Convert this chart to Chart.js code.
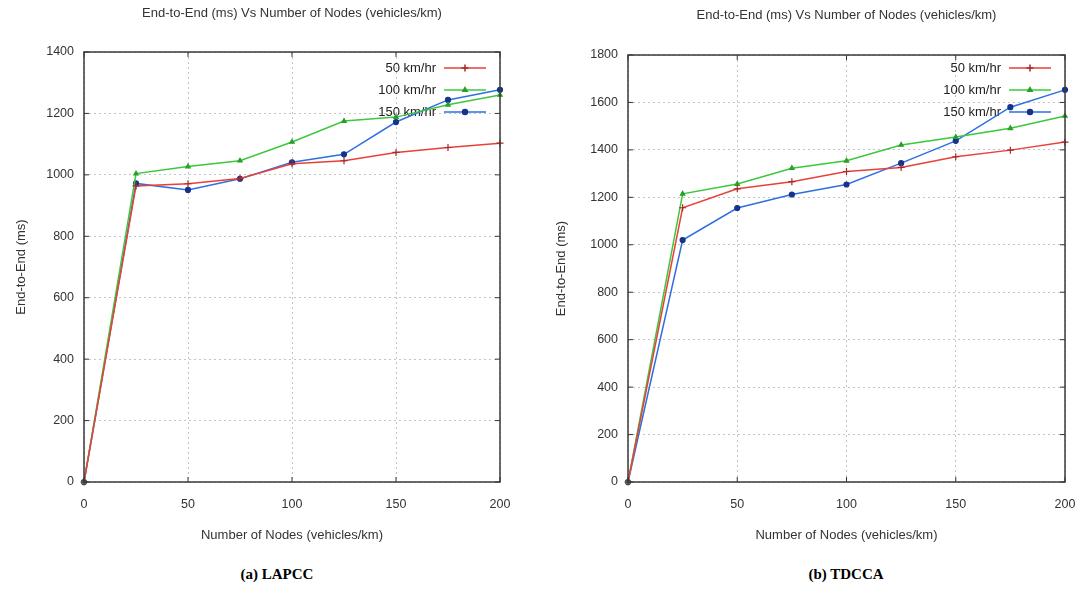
<!DOCTYPE html>
<html>
<head>
<meta charset="utf-8">
<script src="https://cdn.jsdelivr.net/npm/chart.js@4.4.1/dist/chart.umd.min.js"></script>
<style>
  body { margin: 0; background: #fff; width: 1081px; height: 594px; position: relative; overflow: hidden; }
  canvas { position: absolute; top: 0; }
  .cap { position: absolute; top: 566px; font-family: "Liberation Serif", serif; font-weight: bold; font-size: 15px; color: #000; transform: translateX(-50%); white-space: nowrap; }
</style>
</head>
<body>
<canvas id="lapcc" width="540" height="560" style="left:0"></canvas>
<canvas id="tdcca" width="541" height="560" style="left:540px"></canvas>
<div class="cap" style="left:277px">(a) LAPCC</div>
<div class="cap" style="left:846px">(b) TDCCA</div>
<script>
// node density on the x axis
const nodes = [0, 25, 50, 75, 100, 125, 150, 175, 200];
const speedLabels = ['50 km/hr', '100 km/hr', '150 km/hr'];

// (a) LAPCC end-to-end delay (ms)
const lapcc50 = [0, 964, 971, 988, 1036, 1046, 1073, 1089, 1103];
const lapcc100 = [0, 1004, 1027, 1046, 1107, 1175, 1188, 1228, 1260];
const lapcc150 = [0, 972, 951, 987, 1041, 1067, 1172, 1244, 1277];

// (b) TDCCA end-to-end delay (ms)
const tdcca50 = [0, 1156, 1236, 1266, 1309, 1326, 1371, 1399, 1433];
const tdcca100 = [0, 1215, 1256, 1323, 1354, 1421, 1454, 1491, 1543];
const tdcca150 = [0, 1020, 1155, 1212, 1254, 1344, 1438, 1580, 1653];

const xTicks = [0, 50, 100, 150, 200];
const lapccYTicks = [0, 200, 400, 600, 800, 1000, 1200, 1400];
const tdccaYTicks = [0, 200, 400, 600, 800, 1000, 1200, 1400, 1600, 1800];

const chartTitle = 'End-to-End (ms) Vs Number of Nodes (vehicles/km)';
const xTitle = 'Number of Nodes (vehicles/km)';
const yTitle = 'End-to-End (ms)';

const FONT = '"Liberation Sans", Arial, sans-serif';
const styles = [
    { line: '#e8403a', mark: '#a8282a', shape: 'cross', r: 3.5 },
    { line: '#3cc83c', mark: '#28a028', shape: 'triangle', r: 2.5 },
    { line: '#2f6fe0', mark: '#14348c', shape: 'circle', r: 2.5 },
];

// gnuplot style frame with inward ticks on all four sides
const frameBox = {
    id: 'frameBox',
    afterDatasetsDraw(chart) {
        const { ctx, chartArea: a, scales } = chart;
        ctx.save();
        ctx.strokeStyle = '#333';
        ctx.lineWidth = 1;
        ctx.beginPath();
        scales.x.ticks.forEach(t => {
            const px = scales.x.getPixelForValue(t.value);
            ctx.moveTo(px, a.bottom); ctx.lineTo(px, a.bottom - 5);
            ctx.moveTo(px, a.top); ctx.lineTo(px, a.top + 5);
        });
        scales.y.ticks.forEach(t => {
            const py = scales.y.getPixelForValue(t.value);
            ctx.moveTo(a.left, py); ctx.lineTo(a.left + 5, py);
            ctx.moveTo(a.right, py); ctx.lineTo(a.right - 5, py);
        });
        ctx.stroke();
        ctx.lineWidth = 1.5;
        ctx.strokeStyle = '#3a3a3a';
        ctx.strokeRect(a.left, a.top, a.right - a.left, a.bottom - a.top);
        ctx.restore();
    }
};

// key inside the top right corner: text, then line sample
const keyLegend = {
    id: 'keyLegend',
    beforeDatasetsDraw(chart, args, opts) {
        const { ctx, chartArea: a } = chart;
        ctx.save();
        ctx.font = '13px ' + FONT;
        ctx.textAlign = 'right';
        ctx.textBaseline = 'middle';
        chart.data.datasets.forEach((ds, i) => {
            const y = a.top + opts.top + i * 22;
            ctx.fillStyle = '#222';
            ctx.fillText(ds.label, a.right - 64, y);
            ctx.strokeStyle = ds.borderColor;
            ctx.lineWidth = 1.5;
            ctx.beginPath();
            ctx.moveTo(a.right - 56, y);
            ctx.lineTo(a.right - 14, y);
            ctx.stroke();
            ctx.fillStyle = ds.pointBackgroundColor;
            ctx.strokeStyle = ds.pointBorderColor;
            Chart.helpers.drawPoint(ctx, { pointStyle: ds.pointStyle, radius: ds.pointRadius, borderWidth: 1.2, rotation: 0 }, a.right - 35, y);
        });
        ctx.restore();
    }
};

const plain = v => String(v);

function makeChart(id, series, yTicks, lay) {
    const datasets = series.map((vals, i) => ({
        label: speedLabels[i],
        data: nodes.map((n, k) => ({ x: n, y: vals[k] })),
        borderColor: styles[i].line,
        borderWidth: 1.5,
        pointStyle: styles[i].shape,
        pointRadius: styles[i].r,
        pointBackgroundColor: styles[i].mark,
        pointBorderColor: styles[i].mark,
        pointBorderWidth: 1.2,
        tension: 0,
        clip: false,
    }));

    return new Chart(document.getElementById(id), {
        type: 'line',
        data: { datasets },
        options: {
            responsive: false,
            animation: false,
            layout: { padding: { left: 0, right: lay.right, top: 0, bottom: 0 } },
            plugins: {
                legend: { display: false },
                tooltip: { enabled: false },
                title: {
                    display: true,
                    text: chartTitle,
                    fullSize: false,
                    color: '#333',
                    font: { family: FONT, size: 13, weight: 'normal' },
                    padding: { top: lay.titleTop, bottom: lay.top - lay.titleTop - 15.6 },
                },
                keyLegend: { top: lay.keyTop },
            },
            scales: {
                x: {
                    type: 'linear',
                    min: 0,
                    max: 200,
                    afterBuildTicks: s => { s.ticks = xTicks.map(v => ({ value: v })); },
                    afterFit: s => { s.height = 78; s.paddingLeft = 0; s.paddingRight = 0; },
                    border: { display: false, dash: [2, 3] },
                    grid: { color: '#c4c4c4', drawTicks: false, lineWidth: 1 },
                    ticks: { color: '#333', padding: 15, font: { family: FONT, size: 12.5 }, callback: plain },
                    title: { display: true, text: xTitle, color: '#333', font: { family: FONT, size: 13 }, padding: { top: 0, bottom: 17 } },
                },
                y: {
                    min: 0,
                    max: yTicks[yTicks.length - 1],
                    afterBuildTicks: s => { s.ticks = yTicks.map(v => ({ value: v })); },
                    afterFit: s => { s.width = lay.left; s.paddingTop = 0; s.paddingBottom = 0; },
                    border: { display: false, dash: [2, 3] },
                    grid: { color: '#c4c4c4', drawTicks: false, lineWidth: 1 },
                    ticks: { color: '#333', padding: lay.tickPad, font: { family: FONT, size: 12.5 }, callback: plain },
                    title: { display: true, text: yTitle, color: '#333', font: { family: FONT, size: 13 }, padding: { top: lay.yTitle - 7.8, bottom: 0 } },
                },
            },
        },
        plugins: [keyLegend, frameBox],
    });
}

makeChart('lapcc', [lapcc50, lapcc100, lapcc150], lapccYTicks,
    { left: 84, right: 40, top: 52, titleTop: 6, keyTop: 16, tickPad: 10, yTitle: 21 });
makeChart('tdcca', [tdcca50, tdcca100, tdcca150], tdccaYTicks,
    { left: 88, right: 16, top: 55, titleTop: 8, keyTop: 13, tickPad: 10, yTitle: 21 });
</script>
</body>
</html>
